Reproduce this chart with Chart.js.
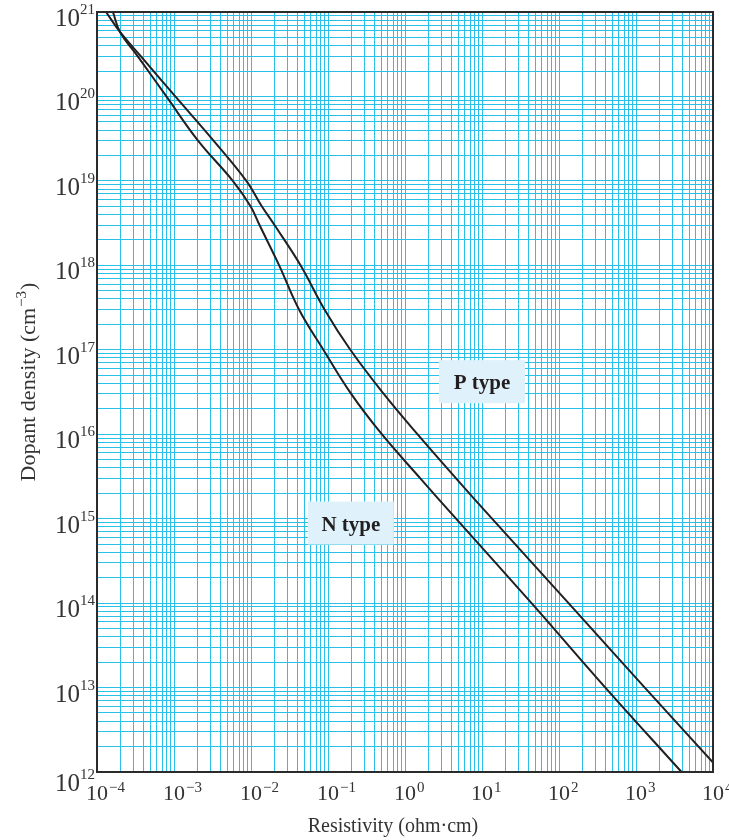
<!DOCTYPE html>
<html>
<head>
<meta charset="utf-8">
<script src="https://cdn.jsdelivr.net/npm/chart.js@4.4.1/dist/chart.umd.min.js"></script>
<style>
html, body { margin: 0; padding: 0; background: #ffffff; }
#wrap { width: 729px; height: 840px; position: relative; }
</style>
</head>
<body>
<div id="wrap"><canvas id="c"></canvas></div>
<script>
// ---- data ----
const xTickExponents = [-4, -3, -2, -1, 0, 1, 2, 3, 4];
const yTickExponents = [12, 13, 14, 15, 16, 17, 18, 19, 20, 21];
const xTitleText = 'Resistivity (ohm·cm)';
const yTitleMain = 'Dopant density (cm';
const yTitleSup = '−3';
const yTitleEnd = ')';
const seriesNames = ['P type', 'N type'];

const pDensity     = [1e21, 5.8e20, 3e20, 1e20, 3e19, 1e19, 5e18, 3e18, 1e18, 3e17, 1e17, 3e16, 1e16, 3e15, 1e15, 1e14, 1e13, 1e12];
const pResistivity = [1.31e-4, 1.99e-4, 3.7e-4, 1.04e-3, 3.26e-3, 8.7e-3, 0.0138, 0.0202, 0.044, 0.09, 0.195, 0.53, 1.45, 4.6, 13.5, 133, 1300, 13000];

const nDensity     = [1e21, 5.8e20, 3e20, 1e20, 3e19, 1e19, 5e18, 3e18, 1e18, 3e17, 1e17, 3e16, 1e16, 3e15, 1e15, 1e14, 1e13, 1e12];
const nResistivity = [1.61e-4, 1.99e-4, 3.37e-4, 7.96e-4, 2.05e-3, 5.8e-3, 9.86e-3, 0.0129, 0.0232, 0.042, 0.087, 0.2, 0.5, 1.58, 4.6, 44, 400, 3900];

// annotation anchors (data coordinates: resistivity, density)
const labelAnchors = { 'P type': { x: 10.0, y: 4.19e16 }, 'N type': { x: 0.198, y: 8.87e14 } };

// ---- helpers ----
function toPoints(xs, ys) { return xs.map((v, i) => ({ x: v, y: ys[i] })); }
function logTicks(minExp, maxExp) {
  const t = [];
  for (let e = minExp; e <= maxExp; e++) {
    for (let m = 1; m <= 9; m++) {
      if (e === maxExp && m > 1) break;
      t.push({ value: parseFloat(m + 'e' + e) });
    }
  }
  return t;
}
function expText(e) { return (e < 0 ? '−' : '') + Math.abs(e); }

const SERIF = '"Liberation Serif", "DejaVu Serif", serif';
const GRID = '#29c1ea';
const INK = '#231f20';
const LABEL = '#333333';

const decor = {
  id: 'decor',
  afterDatasetsDraw(chart) {
    const { ctx, chartArea: a, scales } = chart;
    const xs = scales.x, ys = scales.y;
    ctx.save();
    seriesNames.forEach(name => {
      const anc = labelAnchors[name];
      const cx = xs.getPixelForValue(anc.x), cy = ys.getPixelForValue(anc.y);
      ctx.fillStyle = '#dff1fa';
      ctx.fillRect(cx - 43, cy - 21.5, 86, 43);
      ctx.fillStyle = INK;
      ctx.font = 'bold 21px ' + SERIF;
      ctx.textAlign = 'center';
      ctx.textBaseline = 'alphabetic';
      ctx.fillText(name, cx, cy + 7.5);
    });
    ctx.restore();
    ctx.save();
    ctx.strokeStyle = '#2b2b2b';
    ctx.lineWidth = 2;
    ctx.strokeRect(a.left, a.top, a.right - a.left, a.bottom - a.top);
    ctx.restore();
  },
  afterDraw(chart) {
    const { ctx, chartArea: a, scales } = chart;
    const xs = scales.x, ys = scales.y;
    ctx.save();
    ctx.fillStyle = LABEL;
    ctx.textBaseline = 'alphabetic';
    xTickExponents.forEach(e => {
      const px = xs.getPixelForValue(Math.pow(10, e));
      ctx.font = '22px ' + SERIF;
      const w = ctx.measureText('10').width;
      ctx.textAlign = 'center';
      ctx.fillText('10', px, a.bottom + 28);
      ctx.font = '15px ' + SERIF;
      ctx.textAlign = 'left';
      ctx.fillText(expText(e), px + w / 2 + 1, a.bottom + 20);
    });
    yTickExponents.forEach((e, i) => {
      const py = ys.getPixelForValue(Math.pow(10, e)) + (i === 0 ? 5 : 0);
      ctx.font = '25px ' + SERIF;
      ctx.textAlign = 'right';
      ctx.fillText('10', a.left - 17, py + 14);
      ctx.font = '15px ' + SERIF;
      ctx.textAlign = 'left';
      ctx.fillText(expText(e), a.left - 17, py + 2);
    });
    ctx.font = '20px ' + SERIF;
    ctx.textAlign = 'center';
    ctx.fillText(xTitleText, 393, 832);
    ctx.translate(35, 382);
    ctx.rotate(-Math.PI / 2);
    ctx.textAlign = 'left';
    ctx.font = '22px ' + SERIF;
    const w1 = ctx.measureText(yTitleMain).width;
    const w3 = ctx.measureText(yTitleEnd).width;
    ctx.font = '15px ' + SERIF;
    const w2 = ctx.measureText(yTitleSup).width + 2;
    const start = -(w1 + w2 + w3) / 2;
    ctx.font = '22px ' + SERIF;
    ctx.fillText(yTitleMain, start, 0);
    ctx.font = '15px ' + SERIF;
    ctx.fillText(yTitleSup, start + w1 + 1, -9);
    ctx.font = '22px ' + SERIF;
    ctx.fillText(yTitleEnd, start + w1 + w2, 0);
    ctx.restore();
  }
};

const lineStyle = { borderColor: INK, borderWidth: 2, pointRadius: 0, fill: false, tension: 0.4 };
const gridStyle = { display: true, color: GRID, lineWidth: 1, drawTicks: false, tickLength: 0, offset: false };

new Chart(document.getElementById('c'), {
  type: 'line',
  data: {
    datasets: [
      Object.assign({ label: seriesNames[0], data: toPoints(pResistivity, pDensity) }, lineStyle),
      Object.assign({ label: seriesNames[1], data: toPoints(nResistivity, nDensity) }, lineStyle)
    ]
  },
  options: {
    responsive: true,
    maintainAspectRatio: false,
    devicePixelRatio: 1,
    animation: false,
    layout: { padding: { top: 12, right: 16, left: 0, bottom: 0 } },
    plugins: { legend: { display: false }, tooltip: { enabled: false } },
    scales: {
      x: {
        type: 'logarithmic',
        min: 1e-4, max: 1e4,
        afterBuildTicks: s => { s.ticks = logTicks(xTickExponents[0], xTickExponents[xTickExponents.length - 1]); },
        afterFit: s => { s.height = 68; },
        ticks: { display: false },
        grid: gridStyle,
        border: { display: false },
        title: { display: false }
      },
      y: {
        type: 'logarithmic',
        min: 1e12, max: 1e21,
        afterBuildTicks: s => { s.ticks = logTicks(yTickExponents[0], yTickExponents[yTickExponents.length - 1]); },
        afterFit: s => { s.width = 97; },
        ticks: { display: false },
        grid: gridStyle,
        border: { display: false },
        title: { display: false }
      }
    }
  },
  plugins: [decor]
});
</script>
</body>
</html>
